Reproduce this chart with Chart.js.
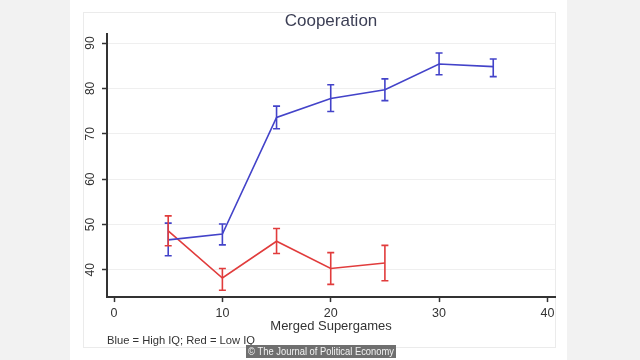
<!DOCTYPE html>
<html>
<head>
<meta charset="utf-8">
<script src="https://cdn.jsdelivr.net/npm/chart.js@4/dist/chart.umd.min.js"></script>
<style>
html,body{margin:0;padding:0;background:#f2f2f2;}
canvas{display:block;}
</style>
</head>
<body>
<canvas id="c" width="640" height="360"></canvas>
<script>
// ---- data ----
const supergames = [5, 10, 15, 20, 25, 30, 35];
const highIQ     = [46.6, 47.9, 73.6, 77.8, 79.7, 85.4, 84.8];
const highIQLow  = [43.1, 45.5, 71.1, 74.9, 77.3, 83.0, 82.6];
const highIQHigh = [50.3, 50.1, 76.1, 80.8, 82.1, 87.8, 86.5];
const lowIQ      = [48.6, 38.2, 46.3, 40.3, 41.5];
const lowIQLow   = [45.3, 35.5, 43.6, 36.8, 37.6];
const lowIQHigh  = [51.9, 40.3, 49.1, 43.8, 45.4];
const xTickValues = [0, 10, 20, 30, 40];
const yTickValues = [40, 50, 60, 70, 80, 90];

const BLUE = '#4343c9';
const RED = '#e13c3c';
const FONT = '"Liberation Sans", Arial, sans-serif';

const pts = (xs, ys) => ys.map((y, i) => ({x: xs[i], y: y}));

const pagePlugin = {
  id: 'page',
  beforeDraw(chart) {
    const ctx = chart.ctx;
    ctx.save();
    ctx.fillStyle = '#f2f2f2';
    ctx.fillRect(0, 0, 640, 360);
    ctx.fillStyle = '#ffffff';
    ctx.fillRect(70, 0, 497, 360);
    ctx.strokeStyle = '#ebebeb';
    ctx.lineWidth = 1;
    ctx.strokeRect(83.5, 12.5, 472, 335);
    ctx.restore();
  }
};

const errorBarPlugin = {
  id: 'errorBars',
  afterDatasetsDraw(chart) {
    const ctx = chart.ctx;
    const xs = chart.scales.x, ys = chart.scales.y;
    chart.data.datasets.forEach(ds => {
      ctx.save();
      ctx.strokeStyle = ds.borderColor;
      ctx.lineWidth = 1.6;
      ds.data.forEach((p, i) => {
        const px = xs.getPixelForValue(p.x);
        const lo = ys.getPixelForValue(ds.errLow[i]);
        const hi = ys.getPixelForValue(ds.errHigh[i]);
        ctx.beginPath();
        ctx.moveTo(px, lo); ctx.lineTo(px, hi);
        ctx.moveTo(px - 3.5, lo); ctx.lineTo(px + 3.5, lo);
        ctx.moveTo(px - 3.5, hi); ctx.lineTo(px + 3.5, hi);
        ctx.stroke();
      });
      ctx.restore();
    });
  }
};

const yLabelPlugin = {
  id: 'yLabels',
  afterDraw(chart) {
    const ctx = chart.ctx;
    const ys = chart.scales.y;
    ctx.save();
    ctx.fillStyle = '#333333';
    ctx.font = '12px ' + FONT;
    ctx.textAlign = 'center';
    ctx.textBaseline = 'middle';
    yTickValues.forEach(v => {
      const py = ys.getPixelForValue(v);
      ctx.save();
      ctx.translate(91, py);
      ctx.rotate(-Math.PI / 2);
      ctx.fillText(String(v), 0, 0);
      ctx.restore();
    });
    // watermark
    ctx.fillStyle = '#6f6f6f';
    ctx.fillRect(246, 345, 150, 13);
    ctx.fillStyle = '#f2f2f2';
    ctx.font = '10.5px ' + FONT;
    ctx.textAlign = 'center';
    ctx.fillText('\u00A9 The Journal of Political Economy', 321, 352, 146);
    ctx.restore();
  }
};

new Chart(document.getElementById('c'), {
  type: 'line',
  data: {
    datasets: [
      {
        label: 'High IQ',
        data: pts(supergames, highIQ),
        errLow: highIQLow, errHigh: highIQHigh,
        borderColor: BLUE, borderWidth: 1.6,
        pointRadius: 0, tension: 0, fill: false
      },
      {
        label: 'Low IQ',
        data: pts(supergames, lowIQ),
        errLow: lowIQLow, errHigh: lowIQHigh,
        borderColor: RED, borderWidth: 1.6,
        pointRadius: 0, tension: 0, fill: false
      }
    ]
  },
  options: {
    responsive: false,
    animation: false,
    devicePixelRatio: 1,
    layout: { padding: { left: 0, right: 85, top: 0, bottom: 0 } },
    plugins: {
      legend: { display: false },
      tooltip: { enabled: false },
      title: {
        display: true, text: 'Cooperation', fullSize: false,
        color: '#3c3f55', font: { family: FONT, size: 17, weight: 'normal', lineHeight: 1.2 },
        padding: { top: 11, bottom: 2.6 }
      },
      subtitle: {
        display: true, text: 'Blue = High IQ; Red = Low IQ', fullSize: false,
        position: 'bottom', align: 'start',
        color: '#333333', font: { family: FONT, size: 11.2, lineHeight: 1.2 },
        padding: { top: 0, bottom: 12 }
      }
    },
    scales: {
      x: {
        type: 'linear', min: -0.65, max: 40.7,
        afterBuildTicks: s => { s.ticks = xTickValues.map(v => ({value: v})); },
        afterFit: s => { s.height = 37.5; },
        ticks: { color: '#333333', font: { family: FONT, size: 12.5 }, padding: 4, maxRotation: 0 },
        grid: { drawOnChartArea: false, drawTicks: true, tickLength: 5, tickColor: '#333333', tickWidth: 1.5 },
        border: { color: '#333333', width: 2 },
        title: { display: true, text: 'Merged Supergames', color: '#333333',
                 font: { family: FONT, size: 13, lineHeight: 1.2 }, padding: { top: 0, bottom: 0 } }
      },
      y: {
        type: 'linear', min: 34, max: 92,
        afterBuildTicks: s => { s.ticks = yTickValues.map(v => ({value: v})); },
        afterFit: s => { s.width = 107; },
        ticks: { display: false },
        grid: { color: '#efefef', lineWidth: 1, drawTicks: true, tickLength: 5, tickColor: '#333333', tickWidth: 1.5 },
        border: { color: '#333333', width: 2 }
      }
    }
  },
  plugins: [pagePlugin, errorBarPlugin, yLabelPlugin]
});
</script>
</body>
</html>
